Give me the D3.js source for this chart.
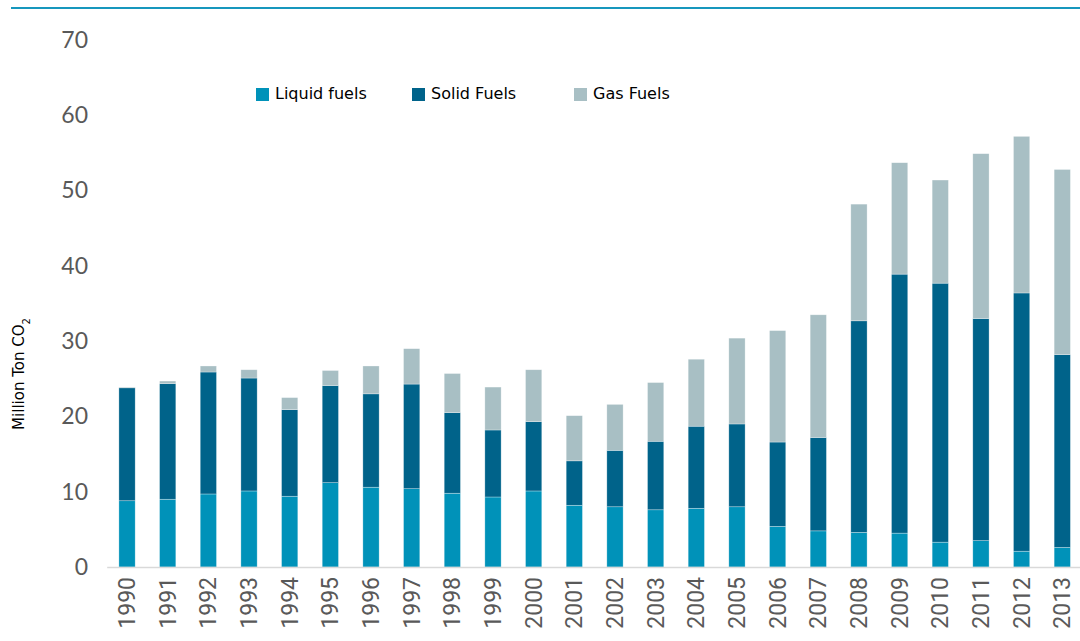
<!DOCTYPE html>
<html>
<head>
<meta charset="utf-8">
<script src="https://cdn.jsdelivr.net/npm/d3@7"></script>
<style>
  body { margin: 0; background: #fff; }
  svg { display: block; }
</style>
</head>
<body>
<div id="chart"></div>
<script>
const years = d3.range(1990, 2014).map(String);
const liquid = [8.8, 9.0, 9.7, 10.1, 9.4, 11.2, 10.6, 10.4, 9.8, 9.3, 10.1, 8.2,
                8.0, 7.6, 7.8, 8.0, 5.4, 4.8, 4.6, 4.5, 3.3, 3.5, 2.1, 2.6];
// cumulative tops, turned into segment values below
const solidTop = [23.8, 24.35, 25.9, 25.1, 20.9, 24.1, 23.0, 24.3, 20.5, 18.2, 19.3, 14.1,
                  15.5, 16.7, 18.7, 19.0, 16.6, 17.2, 32.7, 38.9, 37.7, 33.0, 36.4, 28.2];
const totalTop = [23.9, 24.7, 26.7, 26.2, 22.5, 26.1, 26.7, 29.0, 25.7, 23.9, 26.2, 20.1,
                  21.6, 24.5, 27.6, 30.4, 31.4, 33.5, 48.2, 53.7, 51.4, 54.9, 57.2, 52.8];
const seriesNames = ["Liquid fuels", "Solid Fuels", "Gas Fuels"];
const seriesColors = ["#0092b9", "#00638a", "#a8bfc4"];
const yTicks = [0, 10, 20, 30, 40, 50, 60, 70];

const width = 1080;
const height = 641;
const margin = {t: 40, b: 74, l: 107, r: 0};

const svg = d3.select("#chart")
    .append("svg")
    .attr("width", width)
    .attr("height", height)
    .attr("viewBox", [0, 0, width, height]);

// build table for the stack
const table = years.map((y, i) => ({
    year: y,
    "Liquid fuels": liquid[i],
    "Solid Fuels": solidTop[i] - liquid[i],
    "Gas Fuels": totalTop[i] - solidTop[i]
}));
const stacked = d3.stack().keys(seriesNames)(table);

//top rule
svg.append("line")
    .attr("x1", 11).attr("x2", width)
    .attr("y1", 8).attr("y2", 8)
    .style("stroke", "#1697bd")
    .style("stroke-width", 2);

//scales
const xScale = d3.scaleBand()
    .domain(years)
    .range([106.7, 1082.6])
    .paddingInner(0.6)
    .paddingOuter(0.3);

const yScale = d3.scaleLinear()
    .domain([0, 70])
    .range([567, 40]);

const color = d3.scaleOrdinal()
    .domain(seriesNames)
    .range(seriesColors);

//Y axis (labels only)
const yAxis = d3.axisLeft(yScale)
    .tickValues(yTicks)
    .tickSize(0)
    .tickPadding(0);
const yg = svg.append("g")
    .attr("transform", "translate(88, 0)")
    .call(yAxis);
yg.select(".domain").remove();
yg.selectAll("text")
    .attr("fill", "#595959")
    .style("font-family", "Lato, 'DejaVu Sans', sans-serif")
    .style("font-size", "23px");

//bars
svg.append("g")
    .selectAll("g")
    .data(stacked)
    .join("g")
    .attr("fill", d => color(d.key))
    .selectAll("rect")
    .data(d => d)
    .join("rect")
    .attr("x", d => xScale(d.data.year))
    .attr("y", d => yScale(d[1]))
    .attr("width", xScale.bandwidth())
    .attr("height", d => yScale(d[0]) - yScale(d[1]))
    .style("stroke", "#ffffff")
    .style("stroke-opacity", 0.5)
    .style("stroke-width", 0.6);

//X axis
const xAxis = d3.axisBottom(xScale).tickSize(0).tickPadding(0);
const xg = svg.append("g")
    .attr("transform", "translate(0, 567)")
    .call(xAxis);
xg.select(".domain")
    .attr("stroke", "#d9d9d9")
    .attr("stroke-width", 1.5);
xg.selectAll("text")
    .attr("transform", "rotate(-90)")
    .attr("text-anchor", "end")
    .attr("dy", "0.35em")
    .attr("x", -10)
    .attr("y", 0)
    .attr("fill", "#595959")
    .style("font-family", "Roboto, sans-serif")
    .style("font-size", "23px");

//Y title
const yTitle = svg.append("text")
    .attr("transform", "translate(24, 374) rotate(-90)")
    .attr("text-anchor", "middle")
    .attr("fill", "#000")
    .style("font-family", "'DejaVu Sans', sans-serif")
    .style("font-size", "15px");
yTitle.append("tspan").text("Million Ton CO");
yTitle.append("tspan").attr("baseline-shift", "sub").style("font-size", "10px").text("2");

//legend
const legendX = [256, 412, 574];
const legend = svg.append("g")
    .selectAll("g")
    .data(seriesNames)
    .join("g")
    .attr("transform", (d, i) => `translate(${legendX[i]}, 88)`);
legend.append("rect")
    .attr("width", 13)
    .attr("height", 13)
    .attr("fill", d => color(d));
legend.append("text")
    .attr("x", 19)
    .attr("y", 11)
    .attr("fill", "#000")
    .style("font-family", "'DejaVu Sans', sans-serif")
    .style("font-size", "16px")
    .text(d => d);
</script>
</body>
</html>
